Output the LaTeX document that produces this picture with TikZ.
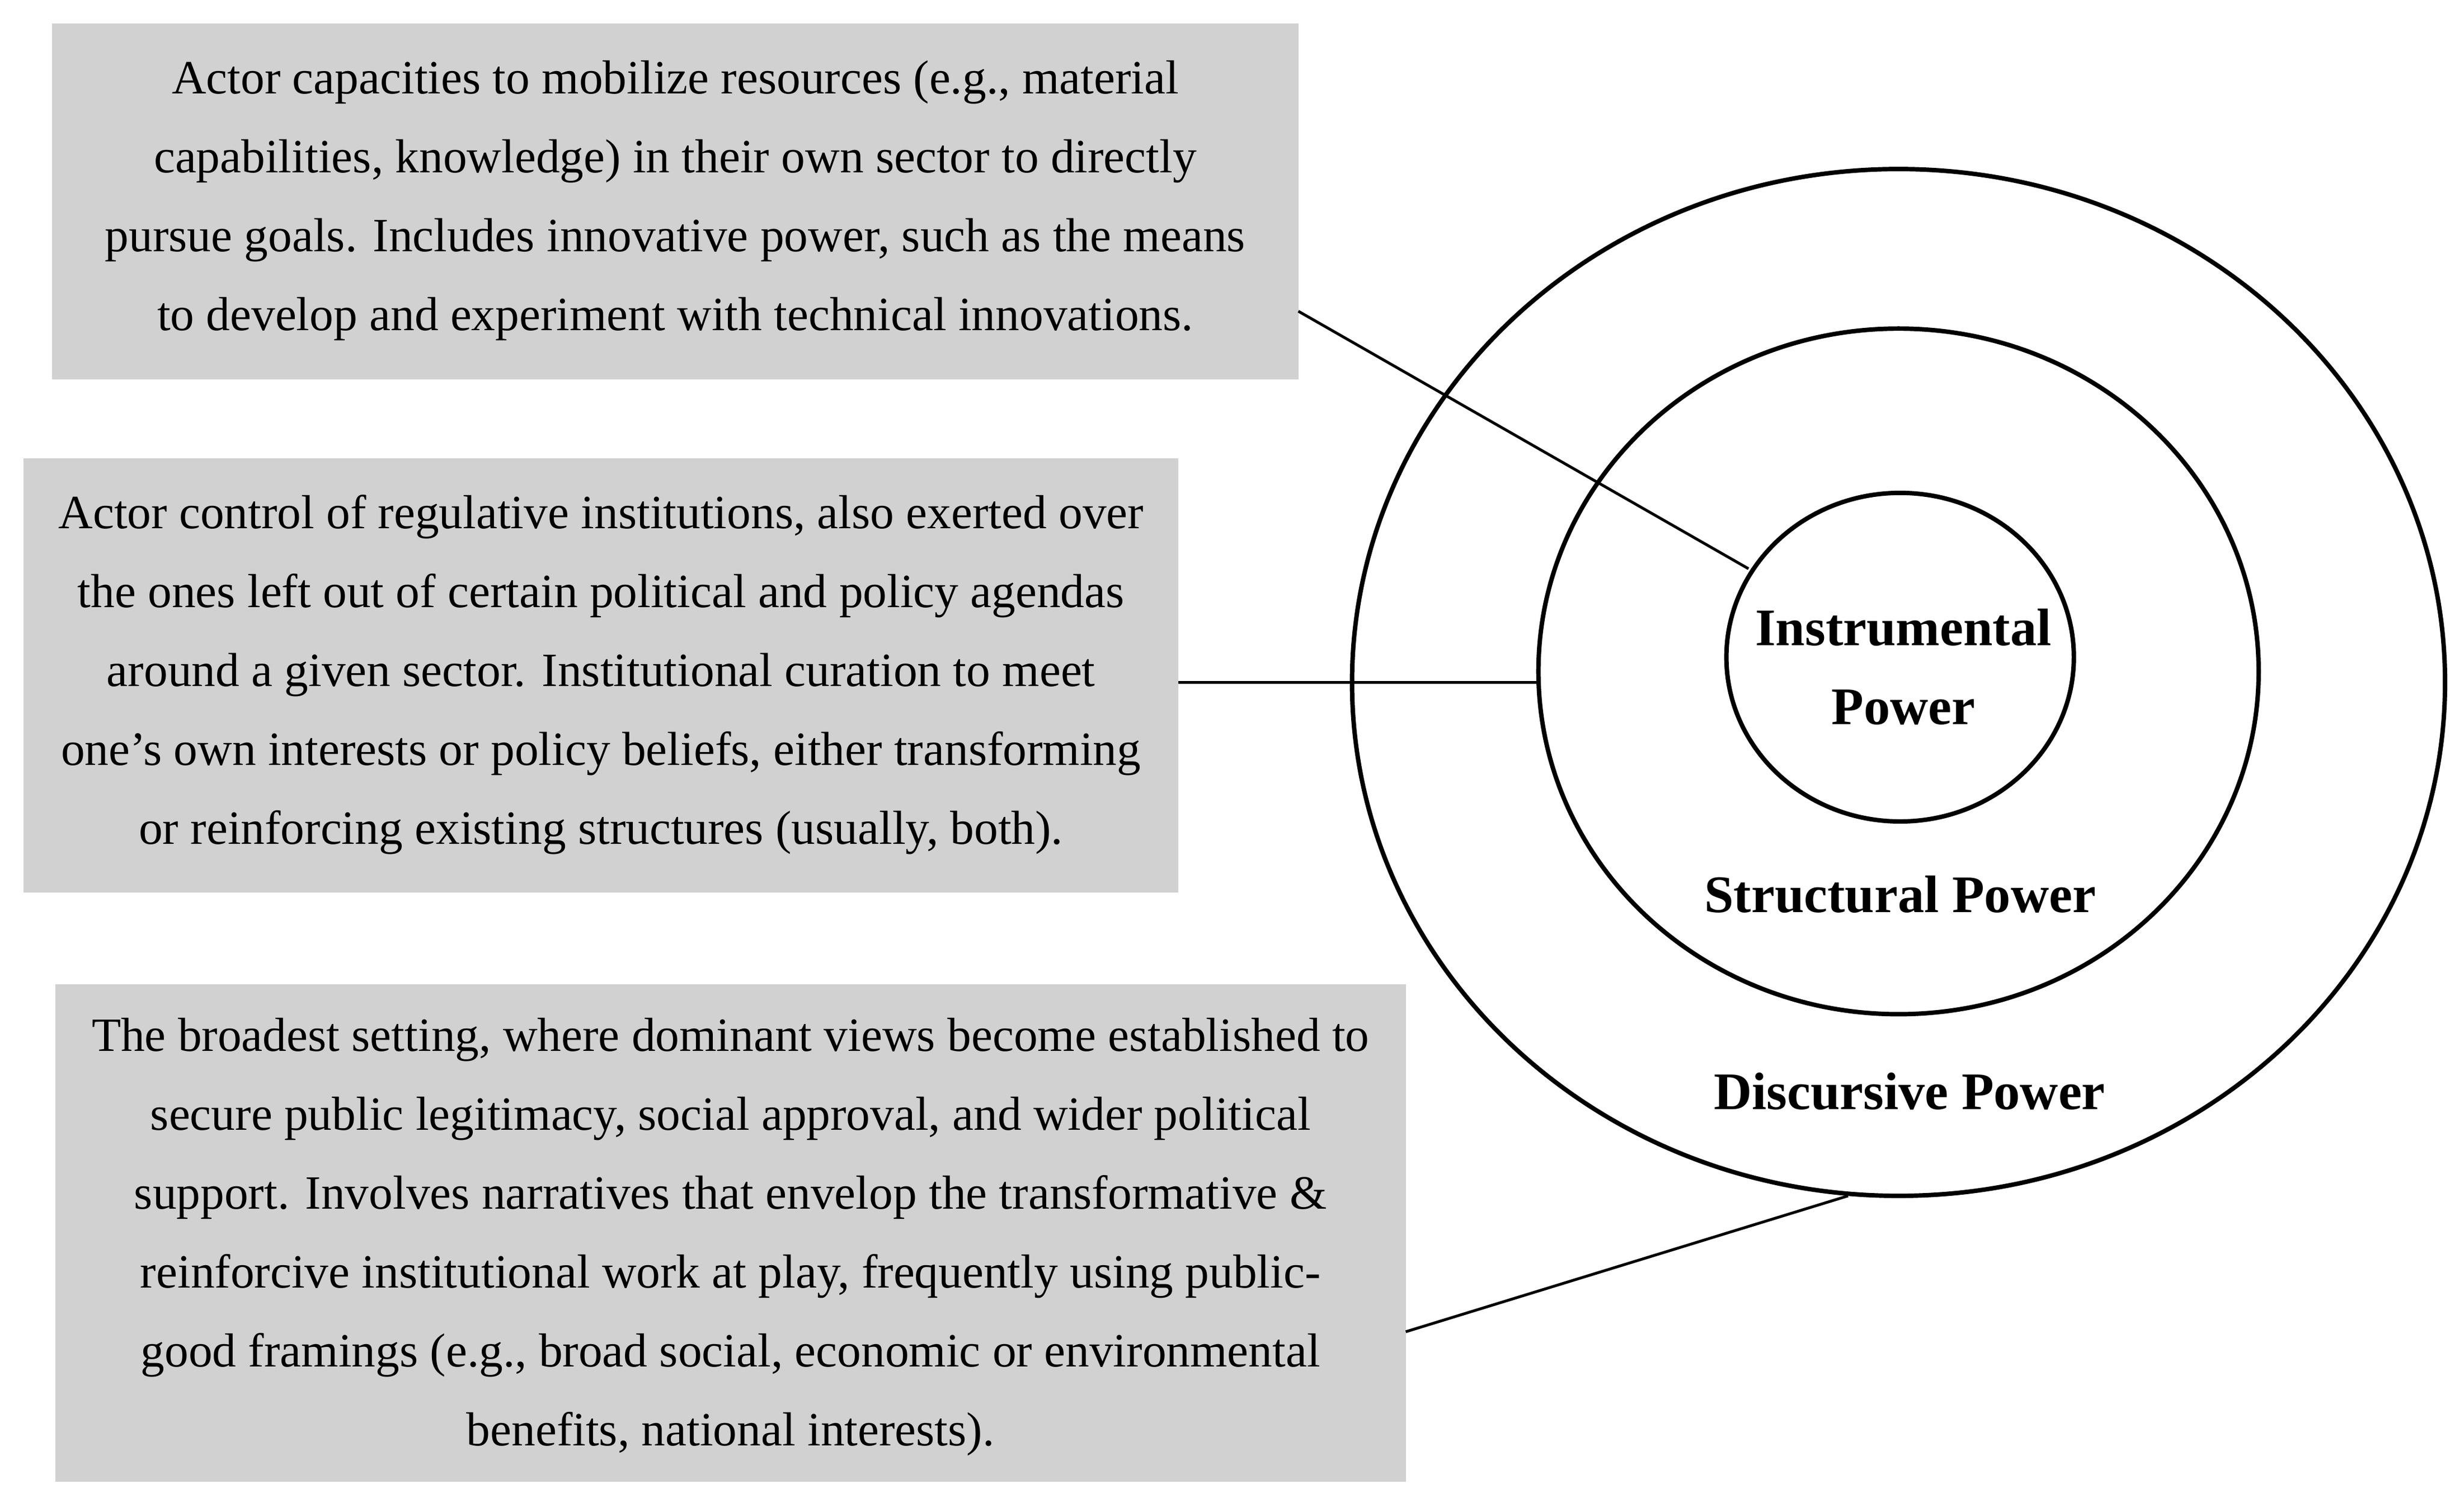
\documentclass[tikz,border=0pt]{standalone}
\usepackage{fontspec}
\setmainfont{Liberation Serif}
\begin{document}
\begin{tikzpicture}[x=0.01cm,y=-0.01cm,
  desc/.style={fill=black!18,align=center,font=\fontsize{8.6}{14.2}\selectfont,inner sep=0pt},
  ring/.style={draw,line width=0.8pt},
  lbl/.style={font=\bfseries\fontsize{9.5}{14.2}\selectfont,align=center},
  conn/.style={draw,line width=0.5pt}]
\useasboundingbox (0,0) rectangle (1560,948);
\fill[white] (0,0) rectangle (1560,948);
\path[fill=black!18] (33,15) rectangle (822,240);
\path[fill=black!18] (15,290) rectangle (746,565);
\path[fill=black!18] (35,623) rectangle (890,938);
\node[desc] (b1) at (427.5,127) {Actor capacities to mobilize resources (e.g., material\\capabilities, knowledge) in their own sector to directly\\pursue goals. Includes innovative power, such as the means\\to develop and experiment with technical innovations.};
\node[desc] (b2) at (380.5,427) {Actor control of regulative institutions, also exerted over\\the ones left out of certain political and policy agendas\\around a given sector. Institutional curation to meet\\one's own interests or policy beliefs, either transforming\\or reinforcing existing structures (usually, both).};
\node[desc] (b3) at (462.5,783) {The broadest setting, where dominant views become established to\\secure public legitimacy, social approval, and wider political\\support. Involves narratives that envelop the transformative \&\\reinforcive institutional work at play, frequently using public-\\good framings (e.g., broad social, economic or environmental\\benefits, national interests).};
\draw[ring] (1202,432) ellipse [x radius=346, y radius=325];
\draw[ring] (1202,425) ellipse [x radius=228, y radius=217];
\draw[ring] (1203,416) ellipse [x radius=110, y radius=104];
\node[lbl] (ip) at (1205,422) {Instrumental\\Power};
\node[lbl] (sp) at (1203,566) {Structural Power};
\node[lbl] (dp) at (1209,691) {Discursive Power};
\coordinate (e1) at (822,197); \coordinate (t1) at (1107,360);
\coordinate (e2) at (746,432); \coordinate (t2) at (975,432);
\coordinate (e3) at (890,843); \coordinate (t3) at (1170,757);
\draw[conn] (e1) -- (t1);
\draw[conn] (e2) -- (t2);
\draw[conn] (e3) -- (t3);
\end{tikzpicture}
\end{document}
